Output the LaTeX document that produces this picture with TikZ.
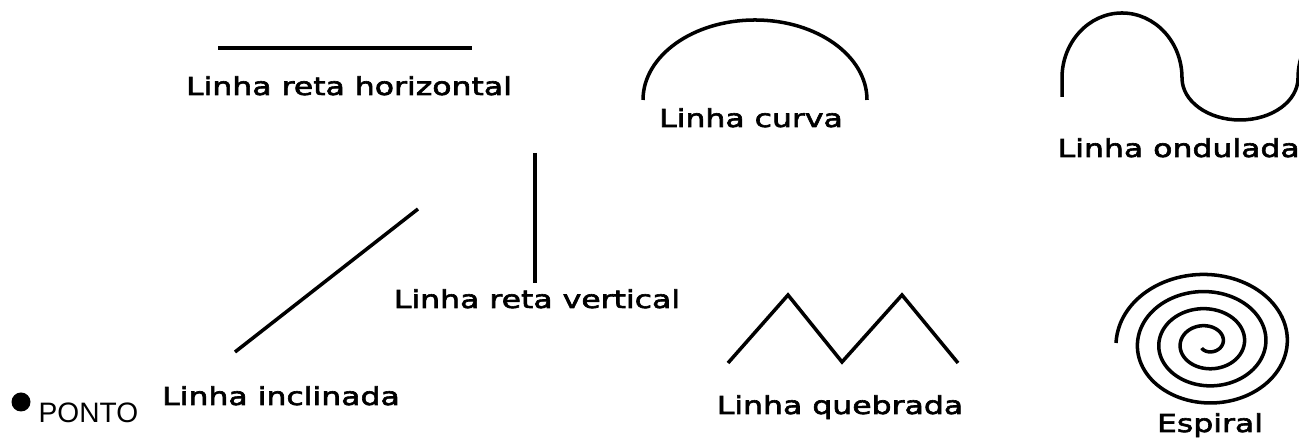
\documentclass[tikz,border=0pt]{standalone}
\usepackage{fontspec}
\newfontfamily\lblfont[FakeStretch=1.28,FakeBold=2.5]{DejaVu Sans}
\newfontfamily\pontofont{Liberation Sans}
\tikzset{
  lbl/.style={font=\lblfont\fontsize{7}{8}\selectfont, inner sep=0pt, anchor=base},
  trace/.style={line width=1pt}
}
\begin{document}
\begin{tikzpicture}
\useasboundingbox (0,0) rectangle (12.99,4.43);
\fill[white] (0,0) rectangle (12.99,4.43);
\begin{scope}
\fill (0.21,0.41) circle (0.095);
\node[font=\pontofont\fontsize{8}{9}\selectfont, inner sep=0pt, anchor=base west] (ponto) at (0.38,0.20) {PONTO};
\end{scope}
\begin{scope}
\draw[trace] (2.18,3.95) -- (4.72,3.95);
\node[lbl] (horizontal) at (3.49,3.48) {Linha reta horizontal};
\end{scope}
\begin{scope}
\draw[trace] (6.43,3.43) arc[start angle=180,end angle=0,x radius=1.12,y radius=0.80];
\node[lbl] (curva) at (7.51,3.16) {Linha curva};
\end{scope}
\begin{scope}
\draw[trace] (10.62,3.46) -- (10.62,3.65)
  arc[start angle=180,end angle=0,x radius=0.60,y radius=0.65]
  arc[start angle=180,end angle=360,x radius=0.58,y radius=0.42]
  arc[start angle=180,end angle=120,x radius=0.60,y radius=0.65];
\node[lbl, anchor=base west] (ondulada) at (10.57,2.86) {Linha ondulada};
\end{scope}
\begin{scope}
\draw[trace] (5.35,2.90) -- (5.35,1.60);
\node[lbl] (vertical) at (5.37,1.35) {Linha reta vertical};
\end{scope}
\begin{scope}
\draw[trace] (2.35,0.91) -- (4.18,2.34);
\node[lbl] (inclinada) at (2.81,0.38) {Linha inclinada};
\end{scope}
\begin{scope}
\draw[trace] (7.28,0.80) -- (7.88,1.48) -- (8.42,0.81) -- (9.02,1.48) -- (9.58,0.80);
\node[lbl] (quebrada) at (8.40,0.29) {Linha quebrada};
\end{scope}
\begin{scope}[shift={(12.07,1.00)}]
\draw[trace, domain=-130:1260, samples=400, smooth, variable=\t]
  plot ({(0.16+0.000592*\t)*cos(\t)}, {0.8*(0.16+0.000592*\t)*sin(\t)});
\node[lbl] (espiral) at (0.03,-0.89) {Espiral};
\end{scope}
\end{tikzpicture}
\end{document}
